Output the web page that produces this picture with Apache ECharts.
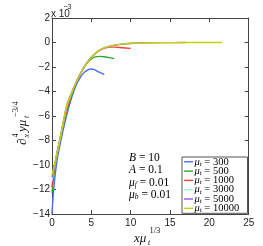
<!DOCTYPE html>
<html><head><meta charset="utf-8">
<script src="https://cdn.jsdelivr.net/npm/echarts@6/dist/echarts.min.js"></script>
<style>html,body{margin:0;padding:0;background:#fff}#c{width:263px;height:246px}</style>
</head><body><div id="c"></div>
<script>
// ---- data ----
const muValues = ['300', '500', '1000', '3000', '5000', '10000'];
const colors = ['#4a6cf7', '#2fa52f', '#ff3b3b', '#a0f5d8', '#a050f0', '#c4d400'];
const x300 = [0, 0.15, 0.4, 0.7, 1.0, 1.5, 2.0, 2.5, 3.0, 3.5, 4.0, 4.5, 4.9, 5.3, 5.8, 6.2, 6.65];
const y300 = [-14, -12.5, -10.8, -9.4, -8.4, -6.9, -5.6, -4.5, -3.6, -2.95, -2.5, -2.25, -2.16, -2.2, -2.35, -2.48, -2.62];
const x500 = [0, 0.2, 0.5, 1.0, 1.5, 2.0, 2.5, 3.0, 3.5, 4.0, 4.5, 5.0, 5.5, 6.1, 6.8, 7.4, 7.9];
const y500 = [-12.3, -11.0, -9.6, -8.0, -6.7, -5.4, -4.3, -3.4, -2.7, -2.1, -1.65, -1.35, -1.18, -1.13, -1.18, -1.25, -1.32];
const x1000 = [0, 0.2, 0.5, 1.0, 1.5, 2.0, 2.5, 3.0, 3.5, 4.0, 4.5, 5.0, 5.5, 6.1, 6.7, 7.3, 8.0, 9.0, 10.0];
const y1000 = [-11.8, -10.7, -9.5, -7.9, -6.5, -5.2, -4.15, -3.35, -2.7, -2.1, -1.6, -1.2, -0.9, -0.63, -0.46, -0.38, -0.38, -0.43, -0.48];
const x3000 = [0, 0.2, 0.4, 0.7, 1.0, 1.4, 1.9, 2.5, 3.0, 3.5, 4.0, 4.5, 5.0, 5.5, 6.1, 7.1, 8.6, 10.7, 13.0];
const y3000 = [-11.3, -10.5, -9.9, -8.9, -8.0, -6.7, -5.2, -4.1, -3.35, -2.7, -2.1, -1.6, -1.2, -0.9, -0.6, -0.34, -0.15, -0.05, -0.02];
const x5000 = [0, 0.2, 0.4, 0.7, 1.0, 1.4, 1.9, 2.5, 3.0, 3.5, 4.0, 4.5, 5.0, 5.5, 6.1, 7.1, 8.6, 10.7, 12.5, 15.0, 17.0];
const y5000 = [-11.0, -10.4, -9.8, -8.8, -7.95, -6.6, -5.1, -4.1, -3.35, -2.7, -2.1, -1.6, -1.2, -0.9, -0.6, -0.34, -0.15, -0.05, -0.02, -0.01, 0];
const x10000 = [0, 0.2, 0.4, 0.7, 1.0, 1.4, 1.9, 2.5, 3.0, 3.5, 4.0, 4.5, 5.0, 5.5, 6.1, 7.1, 8.6, 10.7, 12.5, 15.0, 18.0, 21.6];
const y10000 = [-10.8, -10.3, -9.7, -8.8, -7.9, -6.6, -5.1, -4.1, -3.35, -2.7, -2.1, -1.6, -1.2, -0.9, -0.6, -0.34, -0.15, -0.05, -0.02, -0.01, 0, 0];
const xs = [x300, x500, x1000, x3000, x5000, x10000];
const ys = [y300, y500, y1000, y3000, y5000, y10000];
const xTicks = [0, 5, 10, 15, 20, 25];
const yTicks = [-14, -12, -10, -8, -6, -4, -2, 0, 2];

// ---- chart ----
const chart = echarts.init(document.getElementById('c'), null, {renderer: 'canvas'});
const fmtNum = v => v < 0 ? '\u2212' + (-v) : String(v);
const axisLineStyle = {color: '#444', width: 1};
const names = muValues.map(m => 'mu_t = ' + m);
const series = names.map((n, i) => ({
  name: n, type: 'line', xAxisIndex: 0, yAxisIndex: 0,
  data: xs[i].map((x, j) => [x, ys[i][j]]),
  symbol: 'none', smooth: 0.4,
  lineStyle: {color: colors[i], width: 1.4},
  itemStyle: {color: colors[i]},
  z: 2 + i
}));
const serif = '"Liberation Serif", "DejaVu Serif", serif';
const sans = '"Liberation Sans", Arial, sans-serif';
const richLeg = {
  m: {fontFamily: serif, fontStyle: 'italic', fontSize: 10.5, color: '#111'},
  s: {fontFamily: serif, fontStyle: 'italic', fontSize: 7, color: '#111', padding: [4, 0, 0, 0]},
  n: {fontFamily: serif, fontSize: 10.5, color: '#111'}
};
const richAnn = {
  i: {fontFamily: serif, fontStyle: 'italic', fontSize: 11.5, color: '#111'},
  s: {fontFamily: serif, fontStyle: 'italic', fontSize: 7.5, color: '#111', padding: [5, 0, 0, 0]},
  n: {fontFamily: serif, fontSize: 11.5, color: '#111'}
};
const annLines = [
  '{i|B}{n| = 10}',
  '{i|A}{n| = 0.1}',
  '{i|\u03bc}{s|f}{n| = 0.01}',
  '{i|\u03bc}{s|b}{n| = 0.01}'
];
const annY = [159, 171, 183.5, 195.5];
const graphics = [];
annLines.forEach((t, k) => graphics.push({
  type: 'text', left: 129, top: annY[k] - 7,
  style: {text: t, rich: richAnn}, z: 10
}));
// legend box (manual)
const legTop = 157, legLeft = 182, rowH = 9.3;
graphics.push({type: 'rect', shape: {x: legLeft, y: legTop, width: 65.5, height: 56.3},
  style: {fill: '#fff', stroke: '#555', lineWidth: 1}, z: 20});
muValues.forEach((m, k) => {
  const cy = legTop + 4.8 + k * rowH;
  graphics.push({type: 'line', shape: {x1: legLeft + 2, y1: cy, x2: legLeft + 11, y2: cy},
    style: {stroke: colors[k], lineWidth: 1.4}, z: 21});
  graphics.push({type: 'text', x: legLeft + 12.5, y: cy,
    style: {text: '{m|\u03bc}{s|t}{n| = ' + m + '}', rich: richLeg, verticalAlign: 'middle'}, z: 21});
});
// multiplier
graphics.push({type: 'text', left: 51, top: 9, style: {text: 'x 10', font: '10px ' + sans, fill: '#222'}});
graphics.push({type: 'text', left: 63.5, top: 4, style: {text: '\u22123', font: '7px ' + sans, fill: '#222'}});
// x-axis label
graphics.push({type: 'group', left: 134, top: 226, children: [
  {type: 'text', x: 0, y: 6, style: {text: 'x\u03bc', font: 'italic 13px ' + serif, fill: '#111'}},
  {type: 'text', x: 14, y: 13, style: {text: 't', font: 'italic 8px ' + serif, fill: '#111'}},
  {type: 'text', x: 15.5, y: 0, style: {text: '1/3', font: '8.5px ' + serif, fill: '#111'}}
]});
// y-axis label (rotated)
graphics.push({type: 'group', x: 23, y: 145, rotation: Math.PI / 2, children: [
  {type: 'text', x: 0, y: -7, style: {text: '\u2202', font: 'italic 13px ' + serif, fill: '#111'}},
  {type: 'text', x: 7.5, y: 0, style: {text: 'x', font: 'italic 8px ' + serif, fill: '#111'}},
  {type: 'text', x: 7.5, y: -11, style: {text: '4', font: '8px ' + serif, fill: '#111'}},
  {type: 'text', x: 13, y: -7, style: {text: 'y\u03bc', font: 'italic 13px ' + serif, fill: '#111'}},
  {type: 'text', x: 27, y: 0, style: {text: 't', font: 'italic 8px ' + serif, fill: '#111'}},
  {type: 'text', x: 28, y: -12, style: {text: '\u22123/4', font: '8.5px ' + serif, fill: '#111'}}
]});

const option = {
  animation: false,
  backgroundColor: '#fff',
  grid: {left: 52, right: 14.3, top: 18, bottom: 32, containLabel: false},
  xAxis: [
    {type: 'value', min: xTicks[0], max: xTicks[xTicks.length - 1], interval: 5, position: 'bottom',
     axisLine: {show: true, onZero: false, lineStyle: axisLineStyle}, axisTick: {show: true, inside: true, length: 4, lineStyle: axisLineStyle},
     axisLabel: {fontFamily: sans, fontSize: 10, color: '#222', margin: 4, formatter: fmtNum}, splitLine: {show: false}},
    {type: 'value', min: xTicks[0], max: xTicks[xTicks.length - 1], interval: 5, position: 'top',
     axisLine: {show: true, onZero: false, lineStyle: axisLineStyle}, axisTick: {show: true, inside: true, length: 4, lineStyle: axisLineStyle},
     axisLabel: {show: false}, splitLine: {show: false}}
  ],
  yAxis: [
    {type: 'value', min: yTicks[0], max: yTicks[yTicks.length - 1], interval: 2, position: 'left',
     axisLine: {show: true, onZero: false, lineStyle: axisLineStyle}, axisTick: {show: true, inside: true, length: 4, lineStyle: axisLineStyle},
     axisLabel: {fontFamily: sans, fontSize: 10, color: '#222', margin: 2, formatter: fmtNum}, splitLine: {show: false}},
    {type: 'value', min: yTicks[0], max: yTicks[yTicks.length - 1], interval: 2, position: 'right',
     axisLine: {show: true, onZero: false, lineStyle: axisLineStyle}, axisTick: {show: true, inside: true, length: 4, lineStyle: axisLineStyle},
     axisLabel: {show: false}, splitLine: {show: false}}
  ],
  series: series,
  graphic: graphics
};
chart.setOption(option);
</script></body></html>
